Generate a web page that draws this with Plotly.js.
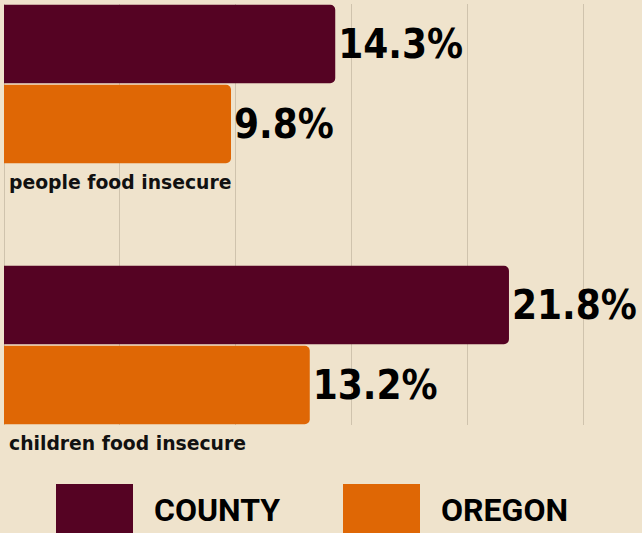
<!DOCTYPE html>
<html>
<head>
<meta charset="utf-8">
<script src="https://cdn.plot.ly/plotly-3.0.1.min.js"></script>
<style>
html,body{margin:0;padding:0;background:#efe3cc;}
#chart{width:642px;height:533px;}
</style>
</head>
<body>
<div id="chart"></div>
<script>
const categories = ["people food insecure", "children food insecure"];
const seriesNames = ["COUNTY", "OREGON"];
const countyValues = [14.3, 21.8];
const oregonValues = [9.8, 13.2];
const xTicks = [0, 5, 10, 15, 20, 25];

const colors = ["#550323", "#df6705"];
const bg = "#efe3cc";
const valueFont = {family: "DejaVu Sans Condensed, DejaVu Sans, sans-serif", size: 40, color: "#000", weight: 700};

function barTrace(name, vals, color) {
  return {
    type: "bar", orientation: "h", name: name,
    y: categories, x: vals,
    marker: {color: color, cornerradius: 5, line: {width: 0}},
    texttemplate: "%{x:.1f}%", textposition: "outside",
    textfont: valueFont, constraintext: "none", cliponaxis: false,
    hoverinfo: "skip", showlegend: false
  };
}

const data = [
  barTrace(seriesNames[0], countyValues, colors[0]),
  barTrace(seriesNames[1], oregonValues, colors[1])
];

const annotations = categories.map(c => ({
  x: 0, y: c, xref: "x", yref: "y", xanchor: "left", yanchor: "middle",
  xshift: 3, yshift: -98, showarrow: false, text: c,
  font: {family: "DejaVu Sans, sans-serif", size: 18.8, color: "#111", weight: 700}
}));

// manual legend
const legX = [56, 343];
const shapes = [];
seriesNames.forEach((n, i) => {
  shapes.push({type: "rect", xref: "paper", yref: "paper",
    x0: (legX[i] - 4) / 637, x1: (legX[i] + 77 - 4) / 637,
    y0: (425 - 484) / 421, y1: (425 - 570) / 421,
    fillcolor: colors[i], line: {width: 0}, layer: "above"});
  annotations.push({xref: "paper", yref: "paper",
    x: (legX[i] + 96 - 4) / 637, y: (425 - 510) / 421,
    xanchor: "left", yanchor: "middle", showarrow: false, text: n,
    font: {family: "Roboto, sans-serif", size: 32, color: "#000", weight: 700}});
});

const layout = {
  width: 642, height: 533,
  margin: {l: 4, r: 1, t: 4, b: 108, pad: 0},
  paper_bgcolor: bg, plot_bgcolor: bg,
  barmode: "group", bargap: 0.387, bargroupgap: 0.02,
  xaxis: {range: [0, 27.5], tickvals: xTicks, showticklabels: false, showgrid: true,
    gridcolor: "#cfc3ad", gridwidth: 1, zeroline: true, zerolinecolor: "#cfc3ad", zerolinewidth: 1,
    showline: false, fixedrange: true},
  yaxis: {type: "category", range: [1.3065, -0.3065], showticklabels: false, showgrid: false,
    zeroline: false, showline: false, fixedrange: true},
  shapes: shapes, annotations: annotations,
  font: {family: "Roboto, sans-serif"}
};

Plotly.newPlot("chart", data, layout, {displayModeBar: false, staticPlot: true});
</script>
</body>
</html>
